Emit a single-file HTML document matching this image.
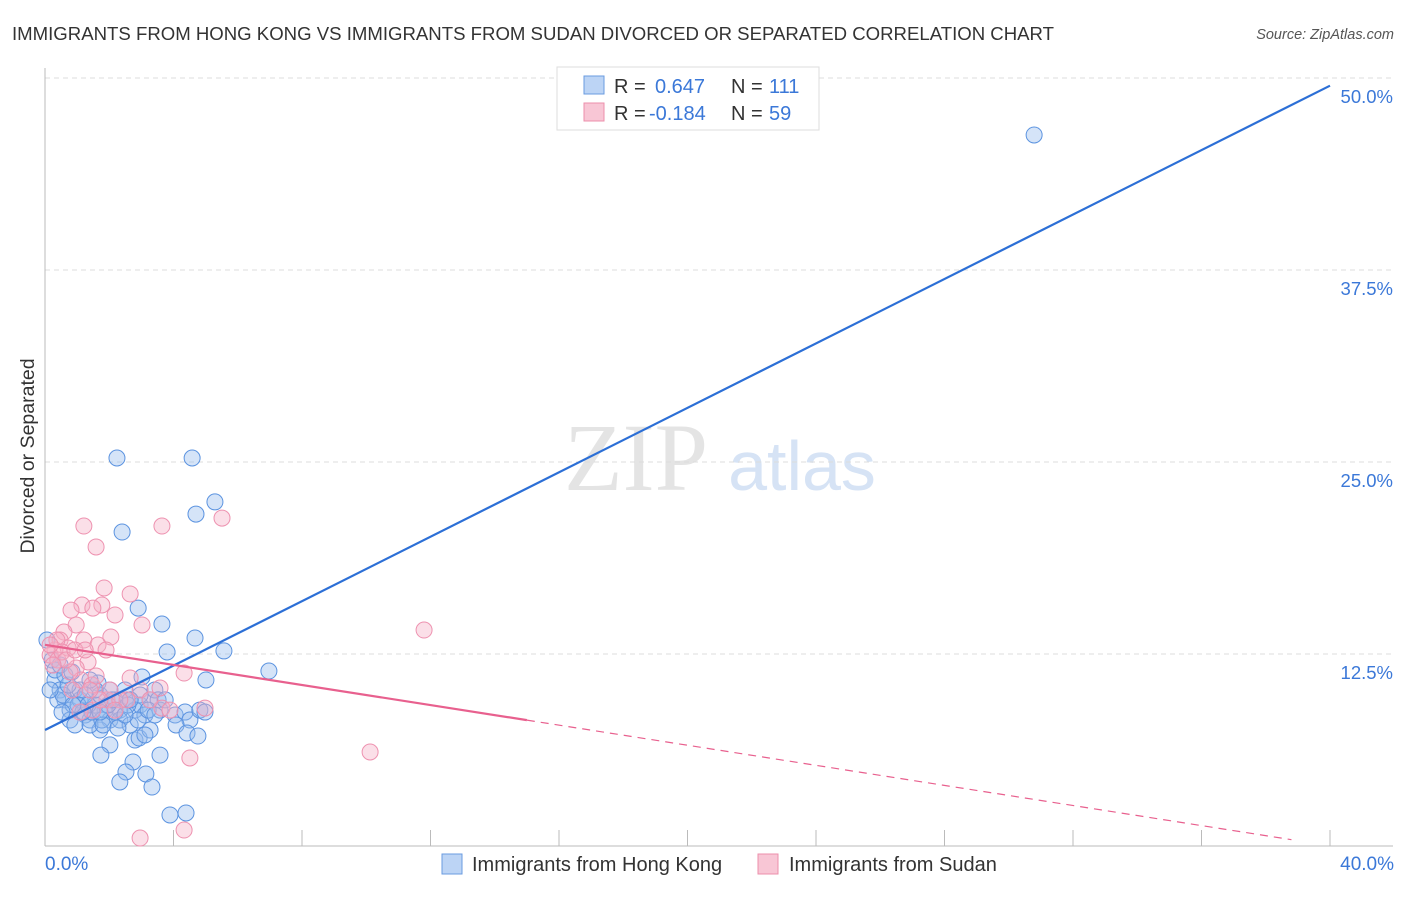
<!DOCTYPE html>
<html><head><meta charset="utf-8"><style>
body{margin:0;background:#fff;font-family:"Liberation Sans",sans-serif;}
svg text{font-family:"Liberation Sans",sans-serif;}
</style></head><body>
<svg id="chart" width="1406" height="892" viewBox="0 0 1406 892" xmlns="http://www.w3.org/2000/svg">
<text x="12" y="40" font-size="18.6" fill="#333">IMMIGRANTS FROM HONG KONG VS IMMIGRANTS FROM SUDAN DIVORCED OR SEPARATED CORRELATION CHART</text>
<text x="1394" y="39" font-size="14.5" fill="#555" font-style="italic" text-anchor="end">Source: ZipAtlas.com</text>
<g>
<text x="636" y="490" font-size="96" fill="#e4e4e4" text-anchor="middle" font-family="Liberation Serif, serif" style="font-family:'Liberation Serif',serif">ZIP</text>
<text x="802" y="490" font-size="70" fill="#d6e3f5" text-anchor="middle">atlas</text>
</g>
<g id="grid"></g>
<g id="axes"></g>
<g id="points"></g>
<g id="lines"></g>
<text transform="translate(34,456) rotate(-90)" font-size="19.5" fill="#333" text-anchor="middle">Divorced or Separated</text>
<text x="45" y="870" font-size="19" fill="#3b78d8">0.0%</text>
<text x="1394" y="870" font-size="19" fill="#3b78d8" text-anchor="end">40.0%</text>
<g>
<rect x="557" y="67" width="262" height="63" fill="#fff" stroke="#ddd"/>
<rect x="584" y="76" width="20" height="18" fill="#bcd4f5" stroke="#6a9be0"/>
<rect x="584" y="103" width="20" height="18" fill="#f8c6d5" stroke="#ec8fab"/>
<text x="614" y="93" font-size="20" fill="#333">R =</text><text x="655" y="93" font-size="20" fill="#3b78d8">0.647</text>
<text x="731" y="93" font-size="20" fill="#333">N =</text><text x="769" y="93" font-size="20" fill="#3b78d8">111</text>
<text x="614" y="120" font-size="20" fill="#333">R =</text><text x="649" y="120" font-size="20" fill="#3b78d8">-0.184</text>
<text x="731" y="120" font-size="20" fill="#333">N =</text><text x="769" y="120" font-size="20" fill="#3b78d8">59</text>
</g>
<g>
<rect x="442" y="854" width="20" height="20" fill="#bcd4f5" stroke="#6a9be0"/>
<text x="472" y="871" font-size="20" fill="#333">Immigrants from Hong Kong</text>
<rect x="758" y="854" width="20" height="20" fill="#f8c6d5" stroke="#ec8fab"/>
<text x="789" y="871" font-size="20" fill="#333">Immigrants from Sudan</text>
</g>
</svg>
<script>
const yTicks=[12.5,25,37.5,50];
const yTickLabels=["12.5%","25.0%","37.5%","50.0%"];
const xTicks=[0,4,8,12,16,20,24,28,32,36,40];
const hkX=[2.24,4.58,5.29,4.70,2.40,2.90,3.64,4.67,5.57,3.80,6.97,5.01,3.02,1.65,0.06,0.22,0.31,0.47,0.62,0.78,0.93,1.09,1.25,1.40,1.56,1.71,1.87,2.02,2.18,2.33,2.49,2.65,2.80,2.96,3.11,3.27,3.42,3.52,3.58,4.05,4.36,4.51,4.82,4.98,4.08,4.42,4.76,1.71,1.40,2.02,1.74,2.80,2.93,3.27,3.58,2.74,2.52,2.33,3.14,3.33,3.89,4.39,1.09,0.78,0.93,0.40,0.56,2.02,1.56,1.25,2.33,2.65,1.46,1.77,2.18,2.96,0.31,0.16,0.72,1.03,1.34,1.96,2.58,2.90,3.21,1.81,1.18,0.87,0.53,2.27,3.42,3.74,2.49,30.79,0.47,0.62,0.84,1.40,2.09,1.71,3.11,2.65];
const hkY=[25.26,25.26,22.40,21.61,20.44,15.49,14.45,13.54,12.70,12.63,11.39,10.81,11.00,10.61,13.41,12.11,10.81,10.16,9.51,8.85,10.16,9.51,8.53,8.20,9.18,9.83,8.85,8.20,9.51,8.85,10.16,9.51,8.85,9.18,8.53,9.51,10.16,9.51,8.85,8.53,8.72,8.20,8.85,8.72,7.88,7.36,7.16,7.55,7.88,6.58,5.92,6.90,7.03,7.55,5.92,5.47,4.82,4.17,4.69,3.84,2.02,2.15,10.16,8.20,7.88,9.51,9.83,10.16,10.16,9.83,8.20,7.88,8.72,8.20,8.72,9.83,11.46,10.16,10.48,9.18,9.18,9.18,9.18,8.20,8.85,7.88,8.72,9.18,8.72,7.68,8.53,9.51,8.53,46.29,11.78,11.13,11.33,10.81,9.51,8.72,7.23,9.51];
const sdX=[1.21,3.64,5.51,1.59,1.84,2.65,1.15,1.77,0.81,1.49,2.18,3.02,0.97,0.59,0.47,1.21,2.05,1.65,1.90,0.72,0.31,0.16,0.40,1.34,0.97,1.12,1.46,0.78,1.59,2.65,3.58,4.33,2.55,4.98,3.64,2.96,1.93,1.49,1.09,4.51,11.80,10.12,2.96,4.33,0.37,0.53,0.65,0.16,0.93,1.25,2.02,2.33,1.71,3.27,3.89,1.40,0.25,0.84,2.18];
const sdY=[20.83,20.83,21.35,19.47,16.80,16.41,15.69,15.69,15.36,15.49,15.04,14.39,14.39,13.93,13.41,13.41,13.61,13.09,12.76,12.89,12.76,12.43,12.11,11.98,11.59,10.81,10.48,11.33,11.07,10.94,10.29,11.26,9.51,8.98,8.98,10.16,9.51,8.85,8.72,5.73,14.06,6.12,0.52,1.04,13.41,12.63,12.11,13.09,12.76,12.76,10.16,9.51,9.51,9.51,8.85,10.16,11.78,10.16,8.85];
const hkLine=[7.55,49.5];
const sdLine=[13.1,-0.327];
const NS="http://www.w3.org/2000/svg";
const X0=45,X1=1330,Y0=846,Y50=78;
function sx(v){return X0+(X1-X0)*v/40;}
function sy(v){return Y0-(Y0-Y50)*v/50;}
function mk(tag,attrs,parent){const e=document.createElementNS(NS,tag);for(const k in attrs)e.setAttribute(k,attrs[k]);parent.appendChild(e);return e;}
const grid=document.getElementById('grid'),axes=document.getElementById('axes'),pts=document.getElementById('points'),lines=document.getElementById('lines');
yTicks.forEach((t,i)=>{
 const l=mk('line',{x1:X0,x2:1393,y1:sy(t),y2:sy(t),stroke:'#dcdcdc','stroke-dasharray':'5,4'},grid);
 
 
 const tx=mk('text',{x:1393,y:sy(t)+25,'font-size':18.5,fill:'#3b78d8','text-anchor':'end'},grid);
 tx.textContent=yTickLabels[i];
 
 
});
const ax=mk('line',{x1:X0,x2:X0,y1:68,y2:Y0,stroke:'#bbb'},axes);


const bx=mk('line',{x1:X0,x2:1393,y1:Y0,y2:Y0,stroke:'#bbb'},axes);


xTicks.forEach(t=>{
 const l=mk('line',{x1:sx(t),x2:sx(t),y1:830,y2:Y0,stroke:'#bbb'},axes);
 
 
});
hkX.forEach((x,i)=>{
 const c=mk('circle',{cx:sx(x),cy:sy(hkY[i]),r:8,fill:'rgba(150,188,238,0.4)',stroke:'#5b93e0','stroke-width':1},pts);
 
 
});
sdX.forEach((x,i)=>{
 const c=mk('circle',{cx:sx(x),cy:sy(sdY[i]),r:8,fill:'rgba(246,175,198,0.4)',stroke:'#ee92b0','stroke-width':1},pts);
 
 
});
const bl=mk('line',{x1:sx(0),y1:sy(hkLine[0]),x2:sx(40),y2:sy(hkLine[1]),stroke:'#2c6fd6','stroke-width':2.2},lines);


const f=x=>sdLine[0]+sdLine[1]*x;
const pl=mk('line',{x1:sx(0),y1:sy(f(0)),x2:sx(15),y2:sy(f(15)),stroke:'#e8608e','stroke-width':2.2},lines);


const pd=mk('line',{x1:sx(15),y1:sy(f(15)),x2:sx(38.8),y2:sy(f(38.8)),stroke:'#e8608e','stroke-width':1.2,'stroke-dasharray':'8,6'},lines);


</script>
</body></html>
